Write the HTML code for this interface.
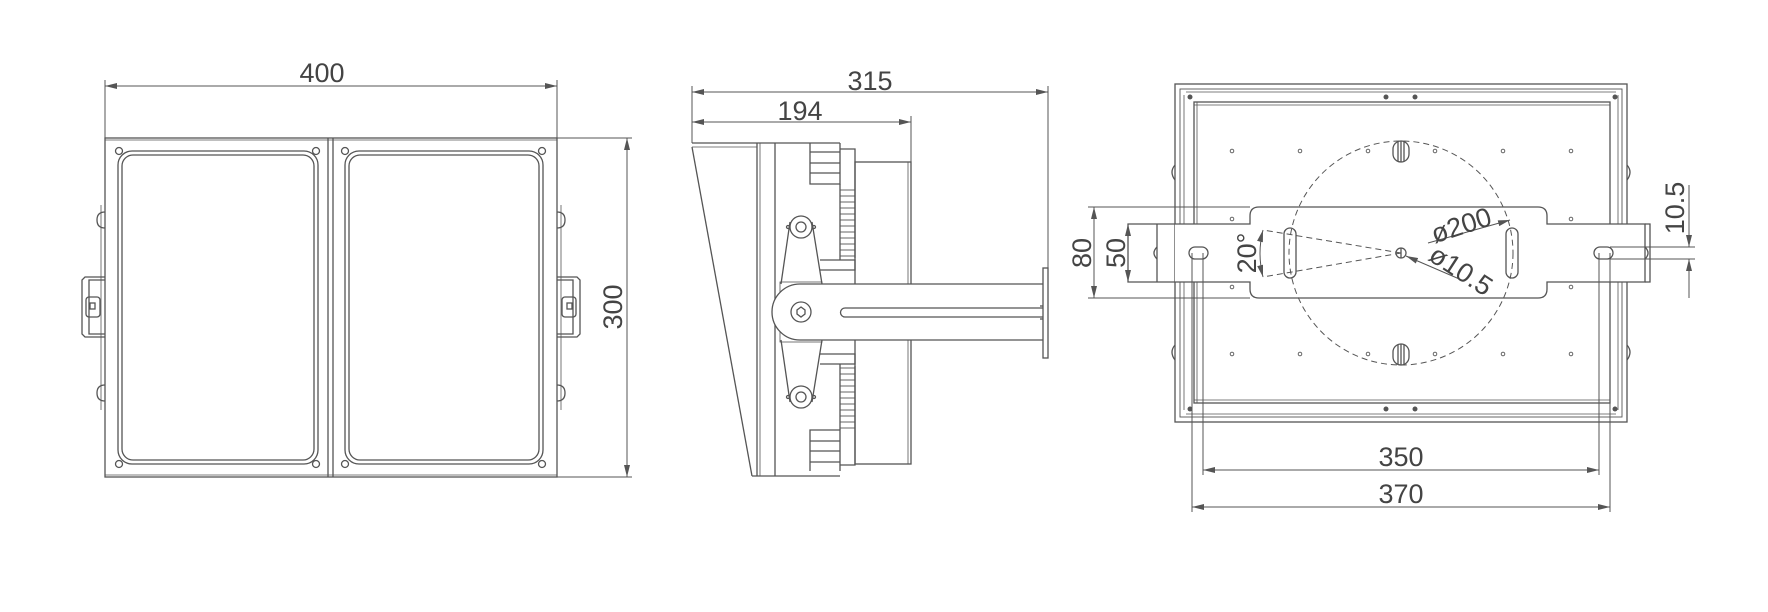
<!DOCTYPE html>
<html><head><meta charset="utf-8"><style>
html,body{margin:0;padding:0;background:#fff;}
svg{display:block;}
text{font-family:"Liberation Sans",sans-serif;fill:#444;font-size:27px;}
</style></head><body>
<svg width="1768" height="612" viewBox="0 0 1768 612" xmlns="http://www.w3.org/2000/svg">
<defs>
<marker id="a" viewBox="0 0 12 6" refX="12" refY="3" markerWidth="12" markerHeight="6" orient="auto-start-reverse" markerUnits="userSpaceOnUse"><path d="M0,0 L12,3 L0,6 z" fill="#555"/></marker>
</defs>
<g fill="none" stroke="#555" stroke-width="1.3">
<line x1="105" y1="86" x2="557" y2="86" stroke-width="1" marker-start="url(#a)" marker-end="url(#a)"/>
<line x1="105" y1="80" x2="105" y2="138" stroke-width="1"/>
<line x1="557" y1="80" x2="557" y2="138" stroke-width="1"/>
<rect x="105" y="138" width="452" height="339"/>
<line x1="105" y1="140" x2="557" y2="140" stroke-width="0.8"/>
<line x1="105" y1="475" x2="557" y2="475" stroke-width="0.8"/>
<line x1="328" y1="138" x2="328" y2="477"/>
<line x1="333" y1="138" x2="333" y2="477"/>
<rect x="118" y="151" width="200" height="313" rx="14"/>
<rect x="122" y="155" width="192" height="305" rx="11"/>
<rect x="345" y="151" width="198" height="313" rx="14"/>
<rect x="349" y="155" width="190" height="305" rx="11"/>
<circle cx="119" cy="151" r="3.5"/><circle cx="316" cy="151" r="3.5"/>
<circle cx="345" cy="151" r="3.5"/><circle cx="542" cy="151" r="3.5"/>
<circle cx="119" cy="464" r="3.5"/><circle cx="316" cy="464" r="3.5"/>
<circle cx="345" cy="464" r="3.5"/><circle cx="542" cy="464" r="3.5"/>
<path d="M105,277 L85,277 L82,280 L82,334 L85,337 L105,337"/>
<path d="M105,280 L89,280 L89,334 L105,334"/>
<rect x="86" y="297" width="14" height="20" rx="3"/>
<rect x="90" y="303" width="5" height="6"/>
<path d="M557,277 L577,277 L580,280 L580,334 L577,337 L557,337"/>
<path d="M557,280 L573,280 L573,334 L557,334"/>
<rect x="562" y="297" width="14" height="20" rx="3"/>
<rect x="567" y="303" width="5" height="6"/>
<path d="M105,212 Q97,212 97,220 Q97,228 105,228"/>
<path d="M105,385 Q97,385 97,393 Q97,401 105,401"/>
<path d="M557,212 Q565,212 565,220 Q565,228 557,228"/>
<path d="M557,385 Q565,385 565,393 Q565,401 557,401"/>
<line x1="101" y1="205" x2="101" y2="410" stroke-width="0.8"/>
<line x1="561" y1="205" x2="561" y2="410" stroke-width="0.8"/>
<line x1="557" y1="138" x2="632" y2="138" stroke-width="1"/>
<line x1="557" y1="477" x2="632" y2="477" stroke-width="1"/>
<line x1="627" y1="138" x2="627" y2="477" stroke-width="1" marker-start="url(#a)" marker-end="url(#a)"/>

<line x1="692" y1="92" x2="1048" y2="92" stroke-width="1" marker-start="url(#a)" marker-end="url(#a)"/>
<line x1="692" y1="122" x2="911" y2="122" stroke-width="1" marker-start="url(#a)" marker-end="url(#a)"/>
<line x1="692" y1="86" x2="692" y2="143" stroke-width="1"/>
<line x1="911" y1="116" x2="911" y2="162" stroke-width="1"/>
<line x1="1048" y1="86" x2="1048" y2="268" stroke-width="1"/>
<line x1="692" y1="143" x2="757" y2="143"/>
<line x1="692" y1="147" x2="757" y2="147" stroke-width="0.8"/>
<line x1="692" y1="147" x2="752" y2="476"/>
<line x1="752" y1="476" x2="775" y2="476"/>
<line x1="757" y1="143" x2="757" y2="476"/>
<line x1="760" y1="143" x2="760" y2="476" stroke-width="0.8"/>
<line x1="775" y1="143" x2="775" y2="476"/>
<line x1="757" y1="143" x2="840" y2="143"/>
<line x1="775" y1="476" x2="840" y2="476"/>
<path d="M810,143 L810,184 L840,184 L840,143"/>
<line x1="810" y1="152" x2="840" y2="152"/>
<line x1="810" y1="163" x2="840" y2="163"/>
<line x1="810" y1="173" x2="840" y2="173"/>
<path d="M840,149 L855,149 L855,258"/>
<path d="M810,471 L810,430 L840,430 L840,471"/>
<line x1="810" y1="462" x2="840" y2="462"/>
<line x1="810" y1="451" x2="840" y2="451"/>
<line x1="810" y1="441" x2="840" y2="441"/>
<path d="M840,465 L855,465 L855,366"/>
<line x1="840" y1="184" x2="840" y2="260"/>
<line x1="840" y1="364" x2="840" y2="430"/>
<g stroke-width="0.9">
<line x1="840" y1="190" x2="855" y2="190"/><line x1="840" y1="196" x2="855" y2="196"/><line x1="840" y1="202" x2="855" y2="202"/><line x1="840" y1="208" x2="855" y2="208"/><line x1="840" y1="214" x2="855" y2="214"/><line x1="840" y1="220" x2="855" y2="220"/><line x1="840" y1="226" x2="855" y2="226"/><line x1="840" y1="232" x2="855" y2="232"/><line x1="840" y1="238" x2="855" y2="238"/><line x1="840" y1="244" x2="855" y2="244"/><line x1="840" y1="250" x2="855" y2="250"/><line x1="840" y1="256" x2="855" y2="256"/>
<line x1="840" y1="368" x2="855" y2="368"/><line x1="840" y1="374" x2="855" y2="374"/><line x1="840" y1="380" x2="855" y2="380"/><line x1="840" y1="386" x2="855" y2="386"/><line x1="840" y1="392" x2="855" y2="392"/><line x1="840" y1="398" x2="855" y2="398"/><line x1="840" y1="404" x2="855" y2="404"/><line x1="840" y1="410" x2="855" y2="410"/><line x1="840" y1="416" x2="855" y2="416"/><line x1="840" y1="422" x2="855" y2="422"/><line x1="840" y1="428" x2="855" y2="428"/>
</g>
<path d="M820,260 L855,260 L855,270 L820,270"/>
<path d="M820,364 L855,364 L855,354 L820,354"/>
<rect x="855" y="162" width="56" height="302"/>
<line x1="908" y1="162" x2="908" y2="464" stroke-width="0.8"/>
<path d="M790,222 L781,284 M812,222 L822,284"/>
<path d="M781,340 L790,402 M822,340 L812,402"/>
<circle cx="801" cy="227" r="11"/><circle cx="801" cy="227" r="5"/>
<circle cx="801" cy="397" r="11"/><circle cx="801" cy="397" r="5"/>
<circle cx="788" cy="227" r="1.5"/><circle cx="814" cy="227" r="1.5"/>
<circle cx="788" cy="397" r="1.5"/><circle cx="814" cy="397" r="1.5"/>
<rect x="780" y="282" width="42" height="60" stroke-width="0.8"/>
<path d="M1043,284 L800,284 A28,28 0 0 0 800,340 L1043,340" fill="#fff"/>
<circle cx="801" cy="312" r="10"/>
<polygon points="801,307 805,310 805,314 801,317 797,314 797,310"/>
<path d="M1043,308 L845,308 A4.5,4.5 0 0 0 845,317 L1043,317"/>
<rect x="1043" y="268" width="5" height="90"/>
<line x1="1040" y1="306" x2="1043" y2="306"/><line x1="1040" y1="319" x2="1043" y2="319"/>

<rect x="1175" y="84" width="452" height="338"/>
<rect x="1180" y="89" width="442" height="328" stroke-width="0.9"/>
<rect x="1194" y="102" width="416" height="301"/>
<line x1="1197" y1="102" x2="1197" y2="403" stroke-width="0.8"/>
<line x1="1194" y1="105" x2="1610" y2="105" stroke-width="0.8"/>
<line x1="1194" y1="400" x2="1610" y2="400" stroke-width="0.8"/>
<g stroke-width="0.8">
<line x1="1186" y1="92" x2="1616" y2="92"/><line x1="1186" y1="414" x2="1616" y2="414"/>
<line x1="1184" y1="95" x2="1184" y2="410"/><line x1="1618" y1="95" x2="1618" y2="410"/>
</g>
<g fill="#555" stroke="none">
<circle cx="1190" cy="97" r="2.5"/><circle cx="1615" cy="97" r="2.5"/>
<circle cx="1190" cy="409" r="2.5"/><circle cx="1615" cy="409" r="2.5"/>
<circle cx="1386" cy="97" r="2.5"/><circle cx="1415" cy="97" r="2.5"/>
<circle cx="1386" cy="409" r="2.5"/><circle cx="1415" cy="409" r="2.5"/>
</g>
<path d="M1175,165 Q1169,172 1175,180 M1175,345 Q1169,352 1175,360 M1627,165 Q1633,172 1627,180 M1627,345 Q1633,352 1627,360"/>
<g stroke-width="0.9">
<circle cx="1232" cy="151" r="1.8"/><circle cx="1300" cy="151" r="1.8"/><circle cx="1368" cy="151" r="1.8"/><circle cx="1435" cy="151" r="1.8"/><circle cx="1503" cy="151" r="1.8"/><circle cx="1571" cy="151" r="1.8"/>
<circle cx="1232" cy="354" r="1.8"/><circle cx="1300" cy="354" r="1.8"/><circle cx="1368" cy="354" r="1.8"/><circle cx="1435" cy="354" r="1.8"/><circle cx="1503" cy="354" r="1.8"/><circle cx="1571" cy="354" r="1.8"/>
<circle cx="1232" cy="219" r="1.8"/><circle cx="1232" cy="287" r="1.8"/><circle cx="1571" cy="219" r="1.8"/><circle cx="1571" cy="287" r="1.8"/>
</g>
<path d="M1175,224 L1250,224 L1250,216 Q1250,207 1259,207 L1538,207 Q1547,207 1547,216 L1547,224 L1645,224 L1645,282 L1547,282 L1547,289 Q1547,298 1538,298 L1259,298 Q1250,298 1250,289 L1250,282 L1175,282" fill="#fff"/>
<path d="M1175,224 L1128,224 L1128,282 L1175,282"/>
<line x1="1157" y1="224" x2="1157" y2="282"/>
<path d="M1645,224 L1650,224 L1650,282 L1645,282"/>
<path d="M1157,247 Q1151,253 1157,259 M1645,247 Q1651,253 1645,259"/>
<rect x="1189" y="247" width="19" height="12" rx="6"/>
<rect x="1594" y="247" width="19" height="12" rx="6"/>
<circle cx="1401" cy="253" r="112" stroke-dasharray="6,4" stroke-width="1"/>
<circle cx="1401" cy="253" r="5"/>
<line x1="1401" y1="248" x2="1401" y2="258"/>
<rect x="1284" y="228" width="12" height="50" rx="6"/>
<rect x="1506" y="228" width="12" height="50" rx="6"/>
<rect x="1393" y="141" width="16" height="21" rx="8"/>
<line x1="1398" y1="142" x2="1398" y2="161"/><line x1="1401" y1="141" x2="1401" y2="162"/><line x1="1404" y1="142" x2="1404" y2="161"/>
<rect x="1393" y="344" width="16" height="21" rx="8"/>
<line x1="1398" y1="345" x2="1398" y2="364"/><line x1="1401" y1="344" x2="1401" y2="365"/><line x1="1404" y1="345" x2="1404" y2="364"/>
<line x1="1401" y1="253" x2="1263" y2="230" stroke-dasharray="6,4" stroke-width="1"/>
<line x1="1401" y1="253" x2="1263" y2="277" stroke-dasharray="6,4" stroke-width="1"/>
<path d="M1263,230 Q1257,253 1263,277" stroke-width="1" marker-start="url(#a)" marker-end="url(#a)"/>
<line x1="1428" y1="243" x2="1510" y2="220" stroke-width="1" marker-end="url(#a)"/>
<line x1="1464" y1="281" x2="1406" y2="256" stroke-width="1" marker-end="url(#a)"/>
<line x1="1088" y1="207" x2="1250" y2="207" stroke-width="1"/>
<line x1="1088" y1="298" x2="1250" y2="298" stroke-width="1"/>
<line x1="1094" y1="207" x2="1094" y2="298" stroke-width="1" marker-start="url(#a)" marker-end="url(#a)"/>
<line x1="1128" y1="224" x2="1128" y2="282" stroke-width="1" marker-start="url(#a)" marker-end="url(#a)"/>
<line x1="1610" y1="247" x2="1695" y2="247" stroke-width="1"/>
<line x1="1610" y1="259" x2="1695" y2="259" stroke-width="1"/>
<line x1="1689" y1="185" x2="1689" y2="247" stroke-width="1" marker-end="url(#a)"/>
<line x1="1689" y1="298" x2="1689" y2="259" stroke-width="1" marker-end="url(#a)"/>
<line x1="1192" y1="253" x2="1192" y2="512" stroke-width="1"/>
<line x1="1203" y1="253" x2="1203" y2="475" stroke-width="1"/>
<line x1="1599" y1="253" x2="1599" y2="475" stroke-width="1"/>
<line x1="1610" y1="253" x2="1610" y2="512" stroke-width="1"/>
<line x1="1203" y1="470" x2="1599" y2="470" stroke-width="1" marker-start="url(#a)" marker-end="url(#a)"/>
<line x1="1192" y1="507" x2="1610" y2="507" stroke-width="1" marker-start="url(#a)" marker-end="url(#a)"/>
</g>
<text x="322" y="82" text-anchor="middle">400</text>
<text x="870" y="90" text-anchor="middle">315</text>
<text x="800" y="120" text-anchor="middle">194</text>
<text transform="translate(622,307) rotate(-90)" text-anchor="middle">300</text>
<text transform="translate(1091,253) rotate(-90)" text-anchor="middle">80</text>
<text transform="translate(1125,253) rotate(-90)" text-anchor="middle">50</text>
<text transform="translate(1256,253) rotate(-90)" text-anchor="middle" font-size="28">20°</text>
<text transform="translate(1684,208) rotate(-90)" text-anchor="middle">10.5</text>
<text transform="translate(1464,234) rotate(-18)" text-anchor="middle" font-size="21">ø200</text>
<text transform="translate(1456,278) rotate(33)" text-anchor="middle" font-size="21">ø10.5</text>
<text x="1401" y="466" text-anchor="middle">350</text>
<text x="1401" y="503" text-anchor="middle">370</text>
</svg>
</body></html>
